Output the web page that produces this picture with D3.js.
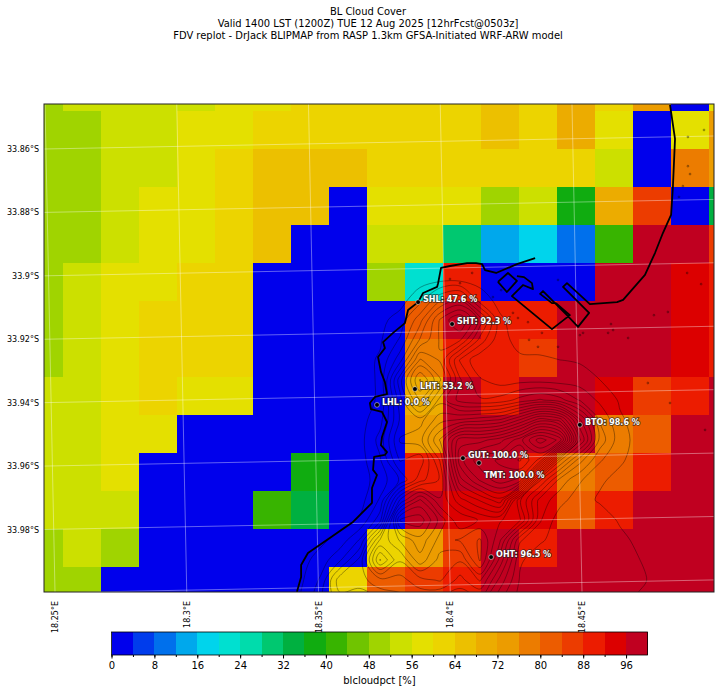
<!DOCTYPE html>
<html>
<head>
<meta charset="utf-8">
<title>BL Cloud Cover</title>
<script src="https://cdnjs.cloudflare.com/ajax/libs/d3/7.8.5/d3.min.js"></script>
<style>
	html, body { margin: 0; padding: 0; background: #fff; }
	svg { display: block; }
	text { font-family: "DejaVu Sans", sans-serif; fill: #000; }
</style>
</head>
<body>
<svg id="chart" width="721" height="692"></svg>
<script>
	/** CHART DATA */
	var titleLines = [
		'BL Cloud Cover',
		'Valid 1400 LST (1200Z) TUE 12 Aug 2025 [12hrFcst@0503z]',
		'FDV replot - DrJack BLIPMAP from RASP 1.3km GFSA-Initiated WRF-ARW model'
	];
	var lonTicks = [18.25, 18.3, 18.35, 18.4, 18.45];
	var latTicks = [33.86, 33.88, 33.9, 33.92, 33.94, 33.96, 33.98];
	var latLines = [33.86, 33.88, 33.9, 33.92, 33.94, 33.96, 33.98, 34.0];

	// contour levels of the colour bar
	var levelStep = 4;
	var barTicks = [0, 8, 16, 24, 32, 40, 48, 56, 64, 72, 80, 88, 96];
	var levelColors = [
		'#0000ec', '#003cec', '#0070ec', '#00a8ec', '#00d4ec',
		'#00e0d0', '#00dcac', '#00c870', '#00b040', '#10ac10',
		'#38b400', '#70c400', '#a0d400', '#cce000', '#e4e000',
		'#ecd400', '#ecc000', '#ecac00', '#ec9c00', '#ec7c00',
		'#ec5c00', '#ec3c00', '#ec1c00', '#dc0000', '#c00020'
	];

	// model grid, 1.3km cells, west to east and north to south
	var cellLon0 = 18.2386;
	var cellLat0 = 33.836;
	var cellDLon = 0.014421;
	var cellDLat = 0.011984;
	var cloudPct = [
		[50, 54, 54, 54, 54, 58, 58, 62, 62, 62, 62, 62, 66, 62, 70, 62, 72, 0, 58],
		[50, 50, 54, 54, 58, 58, 62, 62, 62, 62, 62, 62, 66, 62, 70, 58, 0, 58, 74],
		[50, 50, 54, 54, 58, 62, 66, 66, 66, 62, 62, 62, 62, 62, 62, 54, 0, 78, 74],
		[50, 50, 54, 58, 58, 62, 66, 66, 0, 58, 58, 58, 50, 54, 38, 70, 86, 0, 34],
		[50, 50, 54, 58, 58, 62, 66, 0, 0, 54, 54, 30, 14, 18, 10, 42, 98, 98, 86],
		[50, 54, 58, 58, 62, 62, 0, 0, 0, 50, 22, 90, 0, 0, 0, 98, 98, 94, 90],
		[50, 54, 58, 62, 62, 62, 0, 0, 0, 0, 82, 98, 90, 90, 98, 98, 98, 94, 90],
		[50, 54, 58, 62, 62, 62, 0, 0, 0, 0, 78, 90, 90, 86, 98, 98, 98, 94, 90],
		[54, 54, 58, 62, 58, 58, 0, 0, 0, 0, 70, 98, 90, 98, 98, 94, 86, 90, 98],
		[54, 54, 58, 58, 0, 0, 0, 0, 0, 0, 74, 98, 98, 98, 98, 78, 82, 98, 98],
		[54, 54, 58, 0, 0, 0, 0, 38, 0, 0, 90, 98, 98, 90, 78, 82, 90, 98, 98],
		[54, 54, 54, 0, 0, 0, 42, 34, 0, 0, 98, 94, 94, 94, 82, 90, 98, 98, 98],
		[50, 54, 50, 0, 0, 0, 0, 0, 0, 62, 74, 86, 98, 90, 98, 98, 98, 98, 98],
		[50, 50, 0, 0, 0, 0, 0, 0, 62, 82, 86, 90, 98, 98, 98, 98, 98, 98, 98]
	];

	// estimated terrain height [m], for the contour lines
	var terrainLon0 = 18.343;
	var terrainLat0 = 33.9013;
	var terrainDLon = 0.00759;
	var terrainDLat = 0.00631;
	var terrainCols = 22;
	var terrainLevels = d3.range(15, 1000, 40);
	var terrain = [
		[0, 0, 0, 0, 0, 0, 0, 5, 5, 5, 0, 0, 0, 0, 0, 0, 0, 0, 0, 0, 0, 0],
		[0, 0, 0, 0, 0, 0, 40, 130, 170, 30, 5, 0, 0, 0, 0, 0, 0, 0, 0, 0, 0, 0],
		[0, 0, 0, 0, 5, 30, 120, 260, 340, 200, 20, 0, 0, 0, 0, 0, 0, 0, 0, 0, 0, 0],
		[0, 0, 0, 0, 10, 60, 180, 260, 260, 120, 25, 5, 0, 0, 0, 0, 0, 0, 0, 0, 0, 0],
		[0, 0, 0, 0, 20, 120, 300, 250, 90, 20, 20, 20, 20, 15, 10, 5, 0, 0, 0, 0, 0, 0],
		[0, 0, 0, 0, 20, 240, 420, 300, 140, 60, 35, 40, 40, 35, 35, 15, 5, 0, 0, 0, 0, 0],
		[0, 0, 0, 0, 20, 200, 340, 200, 120, 100, 110, 150, 180, 150, 90, 45, 10, 0, 0, 0, 0, 0],
		[0, 0, 0, 0, 40, 180, 200, 280, 300, 320, 340, 420, 520, 480, 260, 90, 20, 0, 0, 0, 0, 0],
		[0, 0, 0, 0, 70, 220, 240, 380, 560, 560, 600, 680, 800, 720, 340, 120, 30, 0, 0, 0, 0, 0],
		[0, 0, 0, 0, 50, 180, 150, 300, 600, 680, 700, 740, 640, 300, 150, 60, 20, 0, 0, 0, 0, 0],
		[0, 0, 0, 0, 30, 100, 200, 260, 520, 620, 680, 640, 260, 120, 60, 20, 5, 0, 0, 0, 0, 0],
		[0, 0, 0, 0, 60, 300, 420, 300, 400, 460, 520, 260, 120, 70, 30, 10, 0, 0, 0, 0, 0, 0],
		[0, 0, 0, 20, 120, 500, 520, 400, 300, 340, 340, 300, 100, 30, 20, 35, 10, 0, 0, 0, 0, 0],
		[0, 5, 30, 100, 300, 380, 440, 360, 380, 420, 300, 100, 60, 40, 35, 40, 25, 5, 0, 0, 0, 0],
		[0, 30, 90, 190, 420, 300, 400, 320, 300, 420, 240, 60, 35, 25, 40, 25, 35, 15, 0, 0, 0, 0],
		[5, 60, 200, 200, 240, 240, 280, 300, 240, 300, 160, 50, 20, 35, 20, 35, 25, 20, 5, 0, 0, 0],
		[10, 80, 160, 140, 180, 200, 220, 200, 180, 200, 100, 40, 25, 20, 20, 20, 20, 10, 5, 0, 0, 0]
	];

	// coast, lon/lat
	var coastLon = [18.4834, 18.4853, 18.4845, 18.4838, 18.4807, 18.4777, 18.4739, 18.4656, 18.4633, 18.4530, 18.4443, 18.4428, 18.4527, 18.4485, 18.4443, 18.4352, 18.4341, 18.4386, 18.4401, 18.4454, 18.4386, 18.4234, 18.4276, 18.4314, 18.4310, 18.4280, 18.4253];
	var coastLat = [33.8461, 33.8568, 33.8720, 33.8808, 33.8865, 33.8928, 33.8997, 33.9076, 33.9083, 33.9089, 33.9023, 33.9035, 33.9117, 33.9161, 33.9124, 33.9048, 33.9057, 33.9086, 33.9086, 33.9124, 33.9168, 33.9064, 33.9029, 33.9042, 33.9023, 33.9004, 33.9001];
	var dockLon = [18.4181, 18.4219, 18.4253, 18.4215, 18.4181];
	var dockLat = [33.9019, 33.8991, 33.9016, 33.9051, 33.9019];
	var westCoastLon = [18.4322, 18.4253, 18.4174, 18.4132, 18.4121, 18.4098, 18.4064, 18.3999, 18.3965, 18.3954, 18.3950, 18.3897, 18.3878, 18.3840, 18.3828, 18.3783, 18.3745, 18.3752, 18.3726, 18.3737, 18.3752, 18.3760, 18.3714, 18.3695, 18.3699, 18.3741, 18.3760, 18.3741, 18.3737, 18.3760, 18.3752, 18.3711, 18.3707, 18.3722, 18.3703, 18.3703, 18.3631, 18.3460, 18.3434, 18.3434, 18.3418];
	var westCoastLat = [33.8944, 33.8963, 33.8991, 33.8982, 33.8963, 33.8960, 33.8960, 33.8969, 33.8975, 33.9023, 33.9035, 33.9054, 33.9083, 33.9108, 33.9149, 33.9180, 33.9209, 33.9228, 33.9256, 33.9303, 33.9335, 33.9373, 33.9382, 33.9401, 33.9420, 33.9429, 33.9461, 33.9508, 33.9534, 33.9556, 33.9565, 33.9571, 33.9612, 33.9628, 33.9669, 33.9716, 33.9776, 33.9874, 33.9912, 33.9950, 33.9997];

	// small islands and dams
	var speckLon = [18.4902, 18.4963, 18.4902, 18.4910, 18.4883, 18.4868, 18.4899, 18.4952, 18.4773, 18.4826, 18.4610, 18.4618, 18.4599, 18.4675, 18.4504, 18.4492, 18.4348, 18.4295, 18.4238, 18.4257, 18.4037, 18.3999, 18.4409, 18.4193, 18.4162, 18.4083, 18.4299, 18.4409, 18.4333, 18.4750, 18.4834, 18.4967];
	var speckLat = [33.8562, 33.8540, 33.8654, 33.8679, 33.8717, 33.8751, 33.8991, 33.9026, 33.9124, 33.9114, 33.9152, 33.9171, 33.9180, 33.9196, 33.9180, 33.9187, 33.9180, 33.9146, 33.9117, 33.9133, 33.9023, 33.9010, 33.9013, 33.9045, 33.9067, 33.8991, 33.9202, 33.9224, 33.9224, 33.9338, 33.9401, 33.9486];

	// sites
	var siteNames = ['SHL', 'SHT', 'LHT', 'LHL', 'BTO', 'GUT', 'TMT', 'OHT'];
	var siteLon = [18.3878, 18.4007, 18.3866, 18.3722, 18.4492, 18.4048, 18.4109, 18.4155];
	var siteLat = [33.9083, 33.9152, 33.9357, 33.9407, 33.9470, 33.9575, 33.9590, 33.9887];
	var sitePct = [47.6, 92.3, 53.2, 0.0, 98.6, 100.0, 100.0, 96.5];

	/** LAYOUT */
	var plot = { left: 44, right: 714, top: 104, bottom: 592 };
	var bar = { left: 111.5, right: 647.5, top: 632, bottom: 655 };

	var svg = d3.select('#chart');

	var xLon = d3.scaleLinear().domain([18.25, 18.45]).range([55, 582]);
	var yLat = d3.scaleLinear().domain([33.86, 33.98]).range([149, 529.5]);

	var levelColor = d3.scaleThreshold()
		.domain(d3.range(levelStep, 100, levelStep))
		.range(levelColors);

	svg.append('defs').append('clipPath').attr('id', 'plot-clip')
		.append('rect')
		.attr('x', plot.left)
		.attr('y', plot.top)
		.attr('width', plot.right - plot.left)
		.attr('height', plot.bottom - plot.top);

	/** TITLE */
	svg.append('g').selectAll('text')
		.data(titleLines)
		.enter().append('text')
		.attr('x', 368)
		.attr('y', function (d, i) { return 15 + i * 11.8; })
		.attr('text-anchor', 'middle')
		.style('font-size', '9.95px')
		.text(function (d) { return d; });

	var map = svg.append('g').attr('clip-path', 'url(#plot-clip)');

	/** CLOUD CELLS */
	cloudPct.forEach(function (row, r) {
		map.append('g').selectAll('rect')
			.data(row)
			.enter().append('rect')
			.attr('x', function (d, c) { return xLon(cellLon0 + c * cellDLon); })
			.attr('y', yLat(cellLat0 + r * cellDLat))
			.attr('width', xLon(cellDLon) - xLon(0))
			.attr('height', yLat(cellDLat) - yLat(0))
			.attr('shape-rendering', 'crispEdges')
			.attr('fill', function (d) { return levelColor(d); });
	});

	/** TERRAIN CONTOURS */
	var contours = d3.contours()
		.size([terrainCols, terrain.length])
		.thresholds(terrainLevels)(d3.merge(terrain));

	var ringLine = d3.line()
		.curve(d3.curveCatmullRomClosed)
		.x(function (p) { return xLon(terrainLon0 + (p[0] - 0.5) * terrainDLon); })
		.y(function (p) { return yLat(terrainLat0 + (p[1] - 0.5) * terrainDLat); });

	map.append('g').selectAll('path')
		.data(contours)
		.enter().append('path')
		.attr('fill', 'none')
		.attr('stroke', '#000')
		.attr('stroke-opacity', 0.5)
		.attr('stroke-width', 0.7)
		.attr('d', function (c) {
			return c.coordinates.map(function (poly) {
				return poly.map(ringLine).join('');
			}).join('');
		});

	/** GRATICULE */
	var lonTilt = 0.0205;
	var latTilt = 0.0194;
	map.append('g').selectAll('line')
		.data(lonTicks)
		.enter().append('line')
		.attr('x1', function (d) { return xLon(d) - (plot.bottom - plot.top) * lonTilt; })
		.attr('y1', plot.top)
		.attr('x2', function (d) { return xLon(d); })
		.attr('y2', plot.bottom)
		.attr('stroke', '#fff')
		.attr('stroke-opacity', 0.38)
		.attr('stroke-width', 1);
	map.append('g').selectAll('line')
		.data(latLines)
		.enter().append('line')
		.attr('x1', plot.left)
		.attr('y1', function (d) { return yLat(d); })
		.attr('x2', plot.right)
		.attr('y2', function (d) { return yLat(d) - (plot.right - plot.left) * latTilt; })
		.attr('stroke', '#fff')
		.attr('stroke-opacity', 0.38)
		.attr('stroke-width', 1);

	/** COAST */
	var lonLatLine = d3.line()
		.x(function (p) { return xLon(p[0]); })
		.y(function (p) { return yLat(p[1]); });

	[[coastLon, coastLat], [dockLon, dockLat], [westCoastLon, westCoastLat]].forEach(function (c) {
		map.append('path')
			.attr('fill', 'none')
			.attr('stroke', '#000')
			.attr('stroke-width', 1.8)
			.attr('stroke-linejoin', 'round')
			.attr('d', lonLatLine(d3.zip(c[0], c[1])));
	});

	map.append('g').selectAll('circle')
		.data(d3.zip(speckLon, speckLat))
		.enter().append('circle')
		.attr('cx', function (d) { return xLon(d[0]); })
		.attr('cy', function (d) { return yLat(d[1]); })
		.attr('r', 0.9)
		.attr('fill', 'none')
		.attr('stroke', '#000')
		.attr('stroke-opacity', 0.55)
		.attr('stroke-width', 0.7);

	/** SITES */
	var sites = svg.append('g').selectAll('g')
		.data(siteNames)
		.enter().append('g')
		.attr('transform', function (d, i) {
			return 'translate(' + xLon(siteLon[i]) + ',' + yLat(siteLat[i]) + ')';
		});

	sites.append('circle')
		.attr('r', 2.4)
		.attr('fill', '#000')
		.attr('stroke', '#fff')
		.attr('stroke-opacity', 0.6)
		.attr('stroke-width', 0.8);

	sites.append('text')
		.attr('x', 5)
		.attr('y', function (d) { return d === 'TMT' ? 15 : 0; })
		.style('font-size', '8px')
		.style('font-weight', 'bold')
		.style('fill', '#fff')
		.style('stroke', '#222')
		.style('stroke-width', '1.6px')
		.style('stroke-opacity', 0.75)
		.style('paint-order', 'stroke')
		.text(function (d, i) { return d + ': ' + sitePct[i].toFixed(1) + ' %'; });

	/** FRAME AND MAP AXES */
	svg.append('rect')
		.attr('x', plot.left)
		.attr('y', plot.top)
		.attr('width', plot.right - plot.left)
		.attr('height', plot.bottom - plot.top)
		.attr('fill', 'none')
		.attr('stroke', '#222')
		.attr('stroke-width', 1);

	var latAxis = svg.append('g')
		.attr('transform', 'translate(' + plot.left + ',0)')
		.call(d3.axisLeft(yLat)
			.tickValues(latTicks)
			.tickSize(0)
			.tickPadding(5)
			.tickFormat(function (d) { return d3.format('.2~f')(d) + '°S'; }));
	latAxis.select('.domain').remove();
	latAxis.selectAll('text').style('font-size', '8px');

	var lonAxis = svg.append('g')
		.attr('transform', 'translate(0,' + plot.bottom + ')')
		.call(d3.axisBottom(xLon)
			.tickValues(lonTicks)
			.tickSize(0)
			.tickFormat(function (d) { return d3.format('.2~f')(d) + '°E'; }));
	lonAxis.select('.domain').remove();
	lonAxis.selectAll('text')
		.style('font-size', '8px')
		.attr('text-anchor', 'end')
		.attr('dy', '0.32em')
		.attr('x', -9)
		.attr('y', 0)
		.attr('transform', 'rotate(-90)');

	/** COLOUR BAR */
	var xBar = d3.scaleLinear().domain([0, 100]).range([bar.left, bar.right]);

	svg.append('g').selectAll('rect')
		.data(levelColors)
		.enter().append('rect')
		.attr('x', function (d, i) { return xBar(i * levelStep); })
		.attr('y', bar.top)
		.attr('width', xBar(levelStep) - xBar(0))
		.attr('height', bar.bottom - bar.top)
		.attr('shape-rendering', 'crispEdges')
		.attr('fill', function (d) { return d; });

	svg.append('rect')
		.attr('x', bar.left)
		.attr('y', bar.top)
		.attr('width', bar.right - bar.left)
		.attr('height', bar.bottom - bar.top)
		.attr('fill', 'none')
		.attr('stroke', '#000')
		.attr('stroke-width', 0.8);

	svg.append('g')
		.attr('transform', 'translate(0,' + bar.bottom + ')')
		.call(d3.axisBottom(xBar)
			.tickValues(d3.range(0, 100, levelStep))
			.tickSize(2)
			.tickFormat(''))
		.select('.domain').remove();

	var barAxis = svg.append('g')
		.attr('transform', 'translate(0,' + bar.bottom + ')')
		.call(d3.axisBottom(xBar)
			.tickValues(barTicks)
			.tickSize(3.5)
			.tickPadding(3));
	barAxis.select('.domain').remove();
	barAxis.selectAll('text').style('font-size', '10px');

	svg.append('text')
		.attr('x', (bar.left + bar.right) / 2)
		.attr('y', 684)
		.attr('text-anchor', 'middle')
		.style('font-size', '10px')
		.text('blcloudpct [%]');
</script>
</body>
</html>
